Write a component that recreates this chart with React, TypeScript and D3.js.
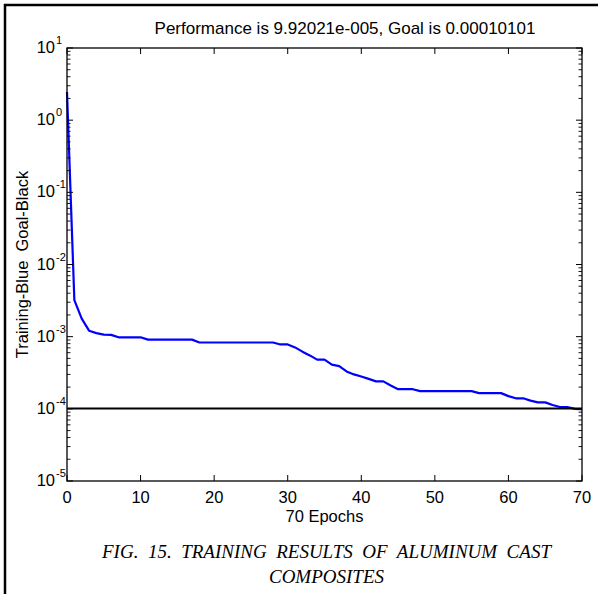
import * as React from "react";
import * as d3 from "d3";

// performance per epoch (0..70)
const epochs = d3.range(0, 71);
const performance = [
  2.45, 3.2e-3, 1.78e-3, 1.21e-3, 1.12e-3, 1.07e-3, 1.06e-3, 0.98e-3, 0.98e-3,
  0.98e-3, 0.98e-3, 0.91e-3, 0.91e-3, 0.91e-3, 0.91e-3, 0.91e-3, 0.91e-3,
  0.91e-3, 0.83e-3, 0.83e-3, 0.83e-3, 0.83e-3, 0.83e-3, 0.83e-3, 0.83e-3,
  0.83e-3, 0.83e-3, 0.83e-3, 0.83e-3, 0.78e-3, 0.78e-3, 0.71e-3, 0.62e-3,
  0.55e-3, 0.48e-3, 0.48e-3, 0.41e-3, 0.39e-3, 0.33e-3, 0.3e-3, 0.28e-3,
  0.26e-3, 0.24e-3, 0.24e-3, 0.21e-3, 0.187e-3, 0.187e-3, 0.187e-3, 0.176e-3,
  0.176e-3, 0.176e-3, 0.176e-3, 0.176e-3, 0.176e-3, 0.176e-3, 0.176e-3,
  0.165e-3, 0.165e-3, 0.165e-3, 0.165e-3, 0.15e-3, 0.14e-3, 0.14e-3, 0.13e-3,
  0.123e-3, 0.123e-3, 0.113e-3, 0.106e-3, 0.106e-3, 0.1e-3, 0.0992e-3,
];
const goal = 0.00010101;
const xTickValues = [0, 10, 20, 30, 40, 50, 60, 70];
const yExponents = [1, 0, -1, -2, -3, -4, -5];

const title = "Performance is 9.92021e-005, Goal is 0.00010101";
const yLabel = "Training-Blue  Goal-Black";
const xLabel = "70 Epochs";
const caption = ["FIG. 15. TRAINING RESULTS OF ALUMINUM CAST", "COMPOSITES"];

const width = 598;
const height = 594;
const margin = { top: 48, right: 16, bottom: 113, left: 67 };
const boundedWidth = width - margin.left - margin.right;
const boundedHeight = height - margin.top - margin.bottom;

export default function App() {
  const xScale = d3.scaleLinear().domain([0, 70]).range([0, boundedWidth]);
  const yScale = d3.scaleLog().domain([1e-5, 10]).range([boundedHeight, 0]);

  const line = d3
    .line<number>()
    .x((_, i) => xScale(epochs[i]))
    .y((d) => yScale(d));

  // minor ticks 2..9 of every decade
  const minorTicks: number[] = [];
  yExponents.slice(1).forEach((e) => {
    for (let m = 2; m <= 9; m++) minorTicks.push(m * Math.pow(10, e));
  });

  const font = "'Liberation Sans', Arial, sans-serif";
  const fs = 16.5;

  return (
    <svg
      width={width}
      height={height}
      style={{ position: "absolute", left: 0, top: 0, background: "white" }}
    >
      {/* outer frame (top and left only) */}
      <line x1={4} x2={width} y1={5} y2={5} stroke="black" strokeWidth={2.5} />
      <line x1={5} x2={5} y1={4} y2={height} stroke="black" strokeWidth={2.5} />

      <text x={345} y={34} textAnchor="middle" fontFamily={font} fontSize={17}>
        {title}
      </text>

      <g transform={`translate(${margin.left}, ${margin.top})`}>
        <path
          d={line(performance) ?? ""}
          fill="none"
          stroke="#0000ff"
          strokeWidth={2.2}
          strokeLinejoin="round"
        />
        <line
          x1={0}
          x2={boundedWidth}
          y1={yScale(goal)}
          y2={yScale(goal)}
          stroke="black"
          strokeWidth={2.2}
        />

        <rect
          width={boundedWidth}
          height={boundedHeight}
          fill="none"
          stroke="black"
          strokeWidth={1.3}
        />

        {/* x ticks, inside, top and bottom */}
        {xTickValues.map((t) => (
          <g key={t} transform={`translate(${xScale(t)}, 0)`}>
            <line y1={0} y2={6} stroke="black" />
            <line y1={boundedHeight} y2={boundedHeight - 6} stroke="black" />
            <text
              y={boundedHeight + 22}
              textAnchor="middle"
              fontFamily={font}
              fontSize={fs}
            >
              {t}
            </text>
          </g>
        ))}

        {/* y major ticks */}
        {yExponents.map((e) => {
          const y = yScale(Math.pow(10, e));
          return (
            <g key={e} transform={`translate(0, ${y})`}>
              <line x1={0} x2={6} stroke="black" />
              <line x1={boundedWidth} x2={boundedWidth - 6} stroke="black" />
              <text
                x={-12}
                y={5}
                textAnchor="end"
                fontFamily={font}
                fontSize={fs}
              >
                10
              </text>
              <text x={-11} y={-4} fontFamily={font} fontSize={11}>
                {e}
              </text>
            </g>
          );
        })}

        {/* y minor ticks */}
        {minorTicks.map((t, i) => (
          <g key={i} transform={`translate(0, ${yScale(t)})`}>
            <line x1={0} x2={3.5} stroke="black" strokeWidth={0.9} />
            <line
              x1={boundedWidth}
              x2={boundedWidth - 3.5}
              stroke="black"
              strokeWidth={0.9}
            />
          </g>
        ))}

        <text
          x={boundedWidth / 2}
          y={boundedHeight + 41}
          textAnchor="middle"
          fontFamily={font}
          fontSize={fs}
        >
          {xLabel}
        </text>

        <text
          transform={`translate(${-39}, ${boundedHeight / 2}) rotate(-90)`}
          textAnchor="middle"
          fontFamily={font}
          fontSize={fs}
          style={{ whiteSpace: "pre" }}
        >
          {yLabel}
        </text>
      </g>

      {caption.map((c, i) => (
        <text
          key={i}
          x={margin.left + boundedWidth / 2 + 2}
          y={558 + i * 25}
          textAnchor="middle"
          fontFamily="'Liberation Serif', 'Times New Roman', serif"
          fontStyle="italic"
          fontSize={19}
          style={{ whiteSpace: "pre" }}
        >
          {c.replace(/ /g, "  ")}
        </text>
      ))}
    </svg>
  );
}
